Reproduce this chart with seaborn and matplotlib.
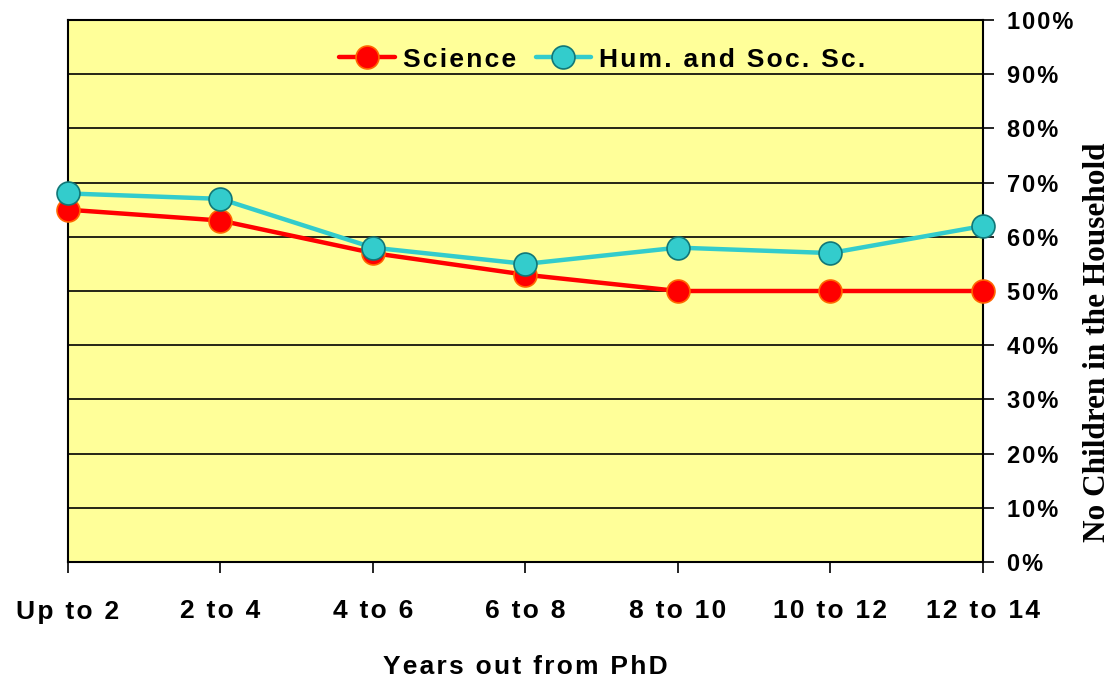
import numpy as np
import pandas as pd
import seaborn as sns
import matplotlib.pyplot as plt
from matplotlib.ticker import FuncFormatter

# values
periods = ["Up to 2", "2 to 4", "4 to 6", "6 to 8", "8 to 10", "10 to 12", "12 to 14"]
science = [65, 63, 57, 53, 50, 50, 50]
hum_soc = [68, 67, 58, 55, 58, 57, 62]


def spaced(s):
    # wide letter spacing like the original
    return "\u200a".join(s)


df = pd.DataFrame({"pct": science + hum_soc,
                   "group": ["Science"] * 7 + ["Hum. and Soc. Sc."] * 7})
df["pos"] = list(range(7)) * 2

sns.set_style("white")
plt.rcParams["font.family"] = ["Liberation Sans", "DejaVu Sans"]
plt.rcParams.update({"text.color": "black", "axes.labelcolor": "black",
                     "xtick.color": "black", "ytick.color": "black"})

fig = plt.figure(figsize=(11.12, 6.79), dpi=100)
ax = fig.add_axes([68 / 1112, 1 - 562 / 679, (983 - 68) / 1112, (562 - 20) / 679])
ax.set_facecolor("#FFFF99")

palette = {"Science": "#FF0000", "Hum. and Soc. Sc.": "#33CCCC"}
edges = {"Science": "#FF6600", "Hum. and Soc. Sc.": "#117777"}
for name in ["Science", "Hum. and Soc. Sc."]:
    sub = df[df["group"] == name]
    sns.lineplot(data=sub, x="pos", y="pct", ax=ax, color=palette[name], lw=3.2,
                 marker="o", markersize=16.5, markeredgecolor=edges[name],
                 markeredgewidth=1.2, label=spaced(name), clip_on=False, zorder=5)

ax.set_xlim(0, 6)
ax.set_ylim(0, 100)
ax.set_yticks(range(0, 101, 10))
ax.yaxis.set_major_formatter(FuncFormatter(lambda v, p: spaced(f"{v:.0f}%")))
ax.yaxis.tick_right()
ax.grid(axis="y", color="black", lw=1.2)
ax.set_axisbelow(True)
ax.set_xticks(range(7))
ax.set_xticklabels([spaced(p) for p in periods])
ax.tick_params(axis="x", bottom=True, direction="out", length=8, width=1.2,
               labelsize=19, pad=19)
ax.tick_params(axis="y", right=True, left=False, direction="out", length=8, width=1.2,
               labelsize=17, pad=9)
for lab in ax.get_xticklabels() + ax.get_yticklabels():
    lab.set_fontweight("bold")
for s in ["left", "right", "top", "bottom"]:
    ax.spines[s].set_visible(True)
    ax.spines[s].set_color("black")
    ax.spines[s].set_linewidth(1.5)

ax.set_xlabel(spaced("Years out from PhD"), fontsize=19, fontweight="bold", labelpad=23)
ax.set_ylabel("No Children in the Household", fontsize=22.5, fontweight="bold",
              family=["Liberation Serif", "DejaVu Serif"], rotation=90)
ax.yaxis.set_label_coords(1.141, 0.406)

leg = ax.legend(loc="upper center", bbox_to_anchor=(0.584, 0.993), ncol=2, frameon=False,
                prop={"weight": "bold", "size": 19}, handlelength=2.1, columnspacing=0.75,
                handletextpad=0.3)

fig.savefig("out.png", dpi=100)
